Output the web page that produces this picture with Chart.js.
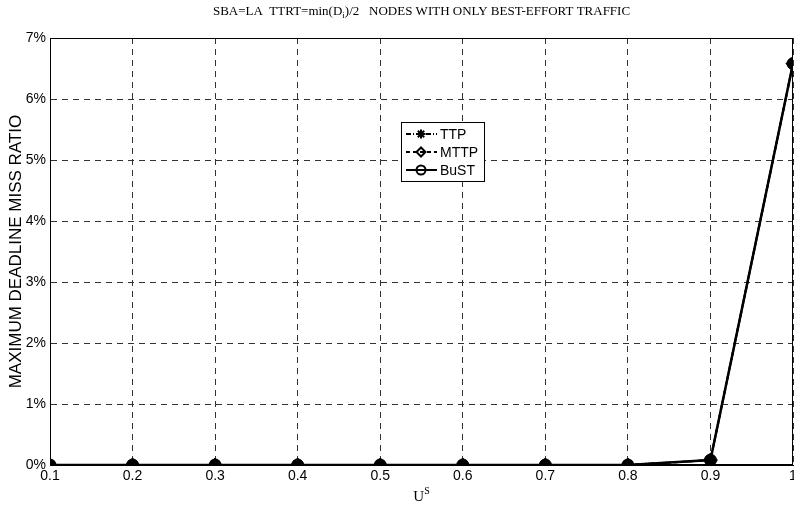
<!DOCTYPE html>
<html>
<head>
<meta charset="utf-8">
<script src="https://cdn.jsdelivr.net/npm/chart.js@4"></script>
<style>
  body { margin: 0; background: #fff; }
  #wrap { width: 794px; height: 506px; }
</style>
</head>
<body>
<div id="wrap"><canvas id="graficoMiss" width="794" height="506"></canvas></div>
<script>
// valores (en %)
const usValores = [0.1, 0.2, 0.3, 0.4, 0.5, 0.6, 0.7, 0.8, 0.9, 1.0];
const ttp = [0, 0, 0, 0, 0, 0, 0, 0, 0.08, 6.58];
const mttp = [0, 0, 0, 0, 0, 0, 0, 0, 0.08, 6.58];
const bust = [0, 0, 0, 0, 0, 0, 0, 0, 0.08, 6.58];
const xTicks = [0.1, 0.2, 0.3, 0.4, 0.5, 0.6, 0.7, 0.8, 0.9, 1];
const yTicks = [0, 1, 2, 3, 4, 5, 6, 7];
const etiquetas = ['TTP', 'MTTP', 'BuST'];

function puntos(serie) {
  return usValores.map(function (u, i) { return { x: u, y: serie[i] }; });
}

const sans = '"Liberation Sans", Arial, sans-serif';
const serif = '"Liberation Serif", "Times New Roman", serif';

// marco, titulo, etiquetas de ejes y leyenda
const extras = {
  id: 'extras',
  afterDraw: function (chart) {
    const ctx = chart.ctx;
    const a = chart.chartArea;
    ctx.save();
    ctx.strokeStyle = '#000';
    ctx.lineWidth = 1;
    ctx.setLineDash([]);
    ctx.strokeRect(a.left + 0.5, a.top + 0.5, a.right - a.left - 1, a.bottom - a.top - 1);

    // titulo con subindice
    ctx.fillStyle = '#000';
    ctx.textBaseline = 'alphabetic';
    const partes = [
      { t: 'SBA=LA  TTRT=min(D', f: '13px ' + serif, dy: 0 },
      { t: 'i', f: '9px ' + serif, dy: 3 },
      { t: ')/2   NODES WITH ONLY BEST-EFFORT TRAFFIC', f: '13px ' + serif, dy: 0 }
    ];
    let total = 0;
    partes.forEach(function (p) { ctx.font = p.f; total += ctx.measureText(p.t).width; });
    let x = (a.left + a.right) / 2 - total / 2;
    partes.forEach(function (p) {
      ctx.font = p.f;
      ctx.textAlign = 'left';
      ctx.fillText(p.t, x, 15 + p.dy);
      x += ctx.measureText(p.t).width;
    });

    // etiqueta eje x: U^S
    ctx.font = '15px ' + serif;
    const wU = ctx.measureText('U').width;
    ctx.font = '10px ' + serif;
    const wS = ctx.measureText('S').width;
    let xu = (a.left + a.right) / 2 - (wU + wS) / 2;
    ctx.font = '15px ' + serif;
    ctx.fillText('U', xu, 501);
    ctx.font = '10px ' + serif;
    ctx.fillText('S', xu + wU, 494);

    // etiqueta eje y
    ctx.save();
    ctx.translate(16, (a.top + a.bottom) / 2);
    ctx.rotate(-Math.PI / 2);
    ctx.font = '17px ' + sans;
    ctx.textAlign = 'center';
    ctx.textBaseline = 'middle';
    ctx.fillText('MAXIMUM DEADLINE MISS RATIO', 0, 0);
    ctx.restore();

    // leyenda
    const lx = 401, ly = 122, lw = 83, lh = 59;
    ctx.fillStyle = '#fff';
    ctx.fillRect(lx, ly, lw, lh);
    ctx.strokeStyle = '#000';
    ctx.lineWidth = 1;
    ctx.strokeRect(lx + 0.5, ly + 0.5, lw, lh);
    const dashes = [[5, 2, 1, 2], [4, 3], []];
    const estilos = ['star', 'rectRot', 'circle'];
    const filas = [134, 152, 170];
    etiquetas.forEach(function (txt, i) {
      const y = filas[i];
      ctx.strokeStyle = '#000';
      ctx.lineWidth = 2;
      ctx.setLineDash(dashes[i]);
      ctx.beginPath();
      ctx.moveTo(406, y);
      ctx.lineTo(437, y);
      ctx.stroke();
      ctx.setLineDash([]);
      ctx.fillStyle = 'rgba(0,0,0,0)';
      Chart.helpers.drawPoint(ctx, {
        pointStyle: estilos[i], radius: 4.5, borderWidth: 2, rotation: 0
      }, 421, y);
      ctx.fillStyle = '#000';
      ctx.font = '14px ' + sans;
      ctx.textAlign = 'left';
      ctx.textBaseline = 'middle';
      ctx.fillText(txt, 440, y + 1);
    });
    ctx.restore();
  }
};

const ctx = document.getElementById('graficoMiss');
new Chart(ctx, {
  type: 'line',
  data: {
    datasets: [{
      label: etiquetas[0],
      data: puntos(ttp),
      borderColor: '#000',
      backgroundColor: '#000',
      borderWidth: 2,
      borderDash: [6, 3, 1, 3],
      pointStyle: 'star',
      pointRadius: 6,
      pointBorderWidth: 2,
      tension: 0
    }, {
      label: etiquetas[1],
      data: puntos(mttp),
      borderColor: '#000',
      backgroundColor: '#000',
      borderWidth: 2,
      borderDash: [5, 3],
      pointStyle: 'rectRot',
      pointRadius: 7,
      pointBorderWidth: 1,
      tension: 0
    }, {
      label: etiquetas[2],
      data: puntos(bust),
      borderColor: '#000',
      backgroundColor: '#000',
      borderWidth: 2.5,
      pointStyle: 'circle',
      pointRadius: 6,
      pointBorderWidth: 1,
      tension: 0
    }]
  },
  options: {
    responsive: false,
    animation: false,
    layout: { autoPadding: false, padding: { top: 38, right: 1, left: 0, bottom: 0 } },
    plugins: {
      legend: { display: false },
      title: { display: false },
      tooltip: { enabled: false }
    },
    scales: {
      x: {
        type: 'linear',
        min: 0.1,
        max: 1,
        afterFit: function (s) { s.height = 41; s.paddingLeft = 0; s.paddingRight = 0; },
        afterBuildTicks: function (s) { s.ticks = xTicks.map(function (v) { return { value: v }; }); },
        ticks: {
          color: '#000',
          font: { family: sans, size: 14 },
          padding: 3,
          maxRotation: 0,
          callback: function (v) { return String(Math.round(v * 10) / 10); }
        },
        grid: { color: '#333', lineWidth: 1, drawTicks: false },
        border: { display: true, color: '#000', dash: [6, 5] }
      },
      y: {
        min: 0,
        max: 7,
        afterFit: function (s) { s.width = 50; s.paddingTop = 0; s.paddingBottom = 0; },
        afterBuildTicks: function (s) { s.ticks = yTicks.map(function (v) { return { value: v }; }); },
        ticks: {
          color: '#000',
          font: { family: sans, size: 14 },
          padding: 4,
          callback: function (v) { return v + '%'; }
        },
        grid: { color: '#333', lineWidth: 1, drawTicks: false },
        border: { display: true, color: '#000', dash: [6, 5] }
      }
    }
  },
  plugins: [extras]
});
</script>
</body>
</html>
